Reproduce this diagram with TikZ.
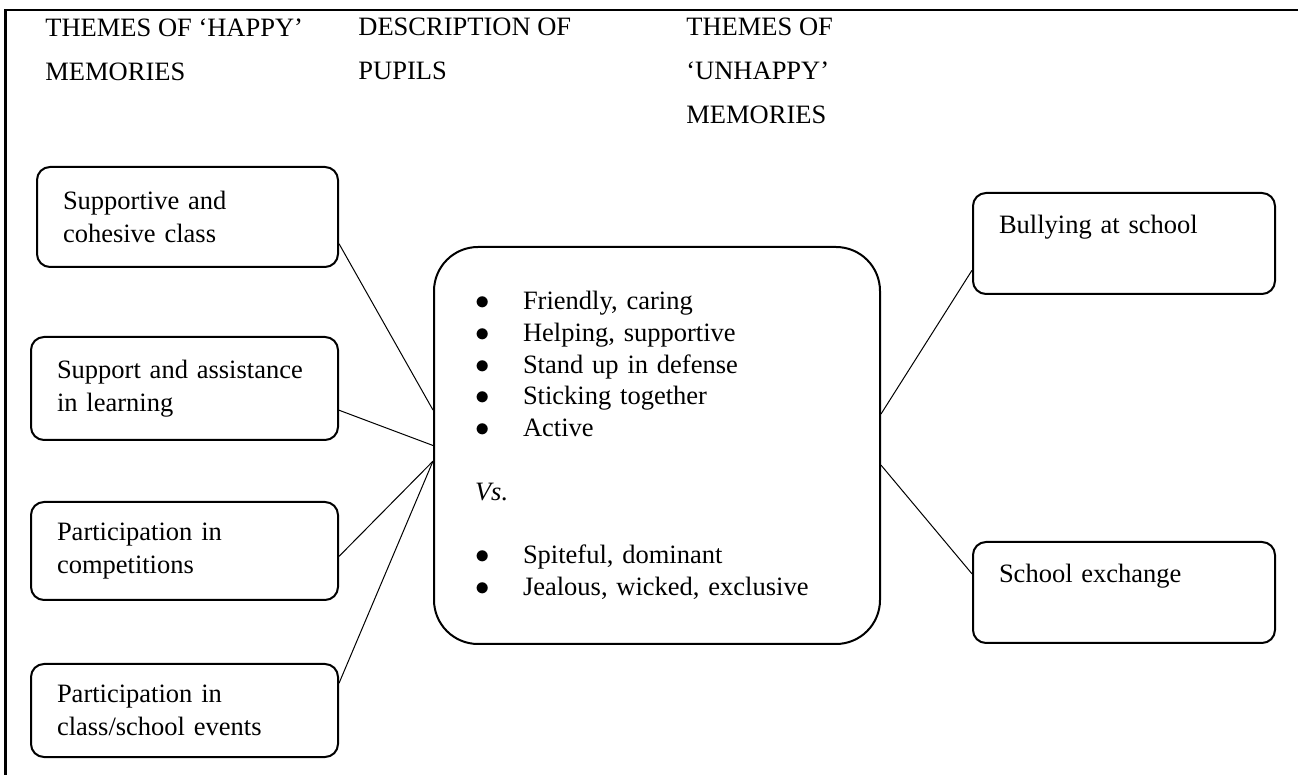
\documentclass[tikz,border=0pt]{standalone}
\usepackage{fontspec}
\setmainfont{Liberation Serif}
\usepackage{tikz}
\usetikzlibrary{positioning,calc}
\tikzset{
	auto,semithick,
	theme/.style ={draw, rectangle, rounded corners=6.5pt, line width=1pt, align=left,
		inner xsep=13pt, minimum width=153.5pt, text width=127.5pt,
		font=\fontsize{13.25}{16.5}\selectfont},
	head/.style = {inner sep=0pt, align=left, anchor=north west,
		font=\fontsize{13.25}{22}\selectfont},
	link/.style = {line width=0.5pt}
}
\newcommand{\itm}[1]{\makebox[24pt][l]{$\bullet$}#1}

\begin{document}
\begin{tikzpicture}[x=0.5pt, y=-0.5pt]
		\tikzstyle{pupil} = [draw, rectangle, rounded corners=22pt, line width=1pt,
		minimum width=223pt, minimum height=198.5pt, text width=182pt,
		inner xsep=20.5pt, align=left, font=\fontsize{13.25}{15.9}\selectfont]
		\tikzstyle{unhappy} = [theme, minimum width=151pt, text width=125pt,
		minimum height=50.5pt, text depth=19.5pt]
		\useasboundingbox (0,0) rectangle (1298,775);
		% frame
		\draw[line width=1.3pt] (5.5,775) -- (5.5,10) -- (1298,10);
		% column heads
		\node[head] (hh) at (45,18) {THEMES OF ‘HAPPY’\\MEMORIES};
		\node[head] (hd) at (358,18) {DESCRIPTION OF\\PUPILS};
		\node[head] (hu) at (686,18) {THEMES OF\\‘UNHAPPY’\\MEMORIES};
		\path[link]
		node[theme, minimum width=150.5pt, text width=124.5pt, minimum height=50pt]
			(sup) at (187.5,217) {Supportive and\\cohesive class}
		node[theme, minimum height=51.5pt] (learn) at (184.5,388.5)
			{Support and assistance\\in learning}
		node[theme, minimum height=49pt] (comp) at (184.5,551)
			{Participation in\\competitions}
		node[theme, minimum height=46.5pt] (events) at (184.5,710.5)
			{Participation in\\class/school events}
		node[pupil] (pupils) at (657,445.5)
			{\itm{Friendly, caring}\\
			 \itm{Helping, supportive}\\
			 \itm{Stand up in defense}\\
			 \itm{Sticking together}\\
			 \itm{Active}\\[15.9pt]
			 \textit{Vs.}\\[15.9pt]
			 \itm{Spiteful, dominant}\\
			 \itm{Jealous, wicked, exclusive}}
		node[unhappy] (bully) at (1124,243.5) {Bullying at school}
		node[unhappy] (exch) at (1124,592.5) {School exchange}
		(sup.-10) edge (pupils.171.5)
		(learn.-8) edge (pupils.180)
		(comp.-2) edge (pupils.184.5)
		(events.10.5) edge (pupils.184.5)
		(pupils.8.3) edge (bully.190)
		(pupils.-5) edge (exch.173.4)
		;
	    \end{tikzpicture}
\end{document}
